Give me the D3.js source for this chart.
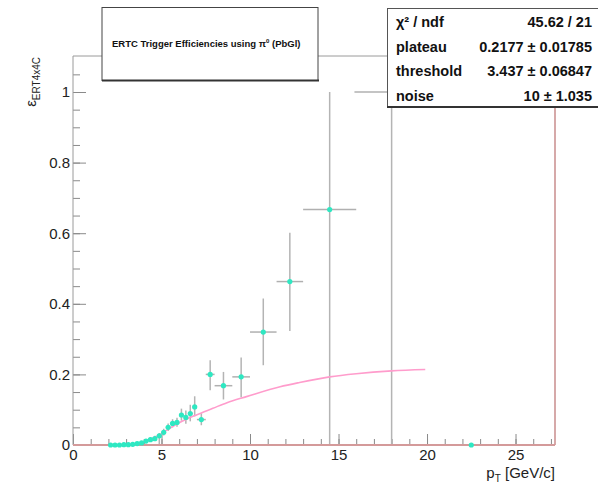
<!DOCTYPE html>
<html>
<head>
<meta charset="utf-8">
<script src="https://cdn.jsdelivr.net/npm/d3@7"></script>
<style>
  body { margin: 0; background: #fff; }
  svg { display: block; font-family: "Liberation Sans", Arial, sans-serif; }
</style>
</head>
<body>
<div id="chart"></div>
<script>
// measured points (pT bin centre, half width, efficiency, errors)
const ptVals = [2.125, 2.375, 2.625, 2.875, 3.125, 3.375, 3.625, 3.875, 4.125, 4.375,
  4.625, 4.875, 5.125, 5.375, 5.625, 5.875, 6.125, 6.375, 6.625, 6.875,
  7.25, 7.75, 8.5, 9.5, 10.75, 12.25, 14.5, 18, 22.5]
const ptErr = [0.125, 0.125, 0.125, 0.125, 0.125, 0.125, 0.125, 0.125, 0.125, 0.125,
  0.125, 0.125, 0.125, 0.125, 0.125, 0.125, 0.125, 0.125, 0.125, 0.125,
  0.25, 0.25, 0.5, 0.5, 0.75, 0.75, 1.5, 2.1, 2.5]
const effVals = [0, 0, 0, 0.001, 0.001, 0.002, 0.004, 0.006, 0.011, 0.015,
  0.018, 0.026, 0.036, 0.05, 0.061, 0.064, 0.085, 0.078, 0.089, 0.108,
  0.072, 0.2, 0.168, 0.193, 0.32, 0.463, 0.667, 1.0, 0]
const errUp = [0, 0, 0, 0.002, 0.002, 0.003, 0.004, 0.005, 0.006, 0.007,
  0.008, 0.008, 0.01, 0.011, 0.012, 0.013, 0.018, 0.02, 0.025, 0.03,
  0.018, 0.04, 0.039, 0.055, 0.095, 0.138, 0.333, 0, 0]
const errLo = [0, 0, 0, 0.001, 0.001, 0.002, 0.003, 0.004, 0.005, 0.006,
  0.007, 0.026, 0.009, 0.01, 0.011, 0.012, 0.016, 0.018, 0.022, 0.027,
  0.016, 0.045, 0.039, 0.058, 0.094, 0.14, 0.667, 1.0, 0]

// fit curve
const fitPt = [3.44, 3.8, 4.3, 5.0, 5.3, 6.0, 7.0, 7.9, 8.7, 9.8, 11.7, 12.8, 14.5, 16, 18, 19.9]
const fitEff = [0, 0.005, 0.015, 0.032, 0.042, 0.063, 0.086, 0.104, 0.12, 0.137, 0.165, 0.177, 0.193, 0.202, 0.21, 0.214]

const xMajor = [0, 5, 10, 15, 20, 25]
const yMajor = [0, 0.2, 0.4, 0.6, 0.8, 1.0]

const statNames = ["χ² / ndf", "plateau", "threshold", "noise"]
const statValues = ["45.62 / 21", "0.2177 ± 0.01785", "3.437 ± 0.06847", "10 ± 1.035"]

const width = 598
const height = 485
const frame = { left: 73, right: 555, top: 56, bottom: 445 }

const svg = d3
  .select("#chart")
  .append("svg")
  .attr("width", width)
  .attr("height", height)

const x = d3.scaleLinear().domain([0, 27.23]).range([frame.left, frame.right])
const y = d3.scaleLinear().domain([0, 1.102]).range([frame.bottom, frame.top])

// minor ticks
svg
  .append("g")
  .attr("transform", `translate(0,${frame.bottom})`)
  .call(d3.axisBottom(x).tickValues(d3.range(0, 28, 1)).tickSizeInner(-6).tickSizeOuter(0).tickFormat(""))
  .call((g) => g.select(".domain").remove())
  .call((g) => g.selectAll("line").attr("stroke", "#8a8a8a"))

svg
  .append("g")
  .attr("transform", `translate(${frame.left},0)`)
  .call(d3.axisLeft(y).tickValues(d3.range(0, 1.1, 0.05)).tickSizeInner(-7).tickSizeOuter(0).tickFormat(""))
  .call((g) => g.select(".domain").remove())
  .call((g) => g.selectAll("line").attr("stroke", "#8a8a8a"))

// major ticks + labels
svg
  .append("g")
  .attr("transform", `translate(0,${frame.bottom})`)
  .call(d3.axisBottom(x).tickValues(xMajor).tickSizeInner(-11).tickSizeOuter(0).tickPadding(4).tickFormat(d3.format("d")))
  .call((g) => g.select(".domain").remove())
  .call((g) => g.selectAll("line").attr("stroke", "#8a8a8a"))
  .call((g) => g.selectAll("text").attr("fill", "#222").style("font-size", "15px").attr("font-family", null))

svg
  .append("g")
  .attr("transform", `translate(${frame.left},0)`)
  .call(d3.axisLeft(y).tickValues(yMajor).tickSizeInner(-13).tickSizeOuter(0).tickPadding(3).tickFormat((d) => String(+d.toFixed(1))))
  .call((g) => g.select(".domain").remove())
  .call((g) => g.selectAll("line").attr("stroke", "#8a8a8a"))
  .call((g) => g.selectAll("text").attr("fill", "#222").style("font-size", "15px").attr("font-family", null))

// frame
svg.append("line")
  .attr("x1", frame.left).attr("x2", frame.right)
  .attr("y1", frame.top).attr("y2", frame.top)
  .attr("stroke", "#9a9a9a").attr("stroke-width", 1)
svg.append("line")
  .attr("x1", frame.left).attr("x2", frame.left)
  .attr("y1", frame.top).attr("y2", frame.bottom)
  .attr("stroke", "#9a9a9a").attr("stroke-width", 1)
svg.append("line")
  .attr("x1", frame.right).attr("x2", frame.right)
  .attr("y1", frame.top).attr("y2", frame.bottom)
  .attr("stroke", "#c98c8c").attr("stroke-width", 1.5)

// error bars
const points = ptVals.map((d, i) => ({
  pt: d, ex: ptErr[i], eff: effVals[i], up: errUp[i], lo: errLo[i],
}))

const bars = svg.append("g").attr("class", "errors")
bars
  .selectAll(".ey")
  .data(points.filter((d) => d.up + d.lo > 0))
  .join("line")
  .attr("class", "ey")
  .attr("x1", (d) => x(d.pt))
  .attr("x2", (d) => x(d.pt))
  .attr("y1", (d) => y(d.eff + d.up))
  .attr("y2", (d) => y(d.eff - d.lo))
  .attr("stroke", "#b4b4b4")
  .attr("stroke-width", 1.5)

bars
  .selectAll(".ex")
  .data(points)
  .join("line")
  .attr("class", "ex")
  .attr("x1", (d) => x(d.pt - d.ex))
  .attr("x2", (d) => x(d.pt + d.ex))
  .attr("y1", (d) => y(d.eff))
  .attr("y2", (d) => y(d.eff))
  .attr("stroke", "#b0b0b0")
  .attr("stroke-width", 1.5)

// bottom axis line (reddish, drawn over)
svg.append("line")
  .attr("x1", frame.left).attr("x2", frame.right)
  .attr("y1", frame.bottom).attr("y2", frame.bottom)
  .attr("stroke", "#d49a9a").attr("stroke-width", 2)

// fit
const fitLine = d3
  .line()
  .x((d, i) => x(fitPt[i]))
  .y((d) => y(d))
  .curve(d3.curveMonotoneX)

svg
  .append("path")
  .attr("d", fitLine(fitEff))
  .attr("fill", "none")
  .attr("stroke", "#ff9ccc")
  .attr("stroke-width", 1.6)

// markers
svg
  .append("g")
  .selectAll("circle")
  .data(points)
  .join("circle")
  .attr("cx", (d) => x(d.pt))
  .attr("cy", (d) => y(d.eff))
  .attr("r", 2.6)
  .attr("fill", "#2ee8c2")

// axis titles
const yTitle = svg
  .append("text")
  .attr("transform", `translate(36,57) rotate(-90)`)
  .attr("text-anchor", "end")
  .attr("fill", "#222")
yTitle.append("tspan").style("font-size", "15px").text("ε")
yTitle.append("tspan").style("font-size", "10px").attr("dy", 4).text("ERT4x4C")

const xTitle = svg
  .append("text")
  .attr("x", 555)
  .attr("y", 478)
  .attr("text-anchor", "end")
  .attr("fill", "#222")
  .style("font-size", "15px")
xTitle.append("tspan").text("p")
xTitle.append("tspan").style("font-size", "10px").attr("dy", 4).text("T")
xTitle.append("tspan").attr("dy", -4).text(" [GeV/c]")

// title box
svg.append("rect")
  .attr("x", 102).attr("y", 7.5)
  .attr("width", 216).attr("height", 73)
  .attr("fill", "#fff").attr("stroke", "#444").attr("stroke-width", 1)
svg.append("line")
  .attr("x1", 102).attr("x2", 319).attr("y1", 80.5).attr("y2", 80.5)
  .attr("stroke", "#333").attr("stroke-width", 2)
const title = svg
  .append("text")
  .attr("x", 112)
  .attr("y", 47)
  .attr("fill", "#111")
  .style("font-size", "9.5px")
  .style("font-weight", "bold")
title.append("tspan").text("ERTC Trigger Efficiencies using π")
title.append("tspan").attr("dy", -4).style("font-size", "6px").text("0")
title.append("tspan").attr("dy", 4).text(" (PbGl)")

// stats box
svg.append("rect")
  .attr("x", 387.5).attr("y", 8.5)
  .attr("width", 230).attr("height", 98)
  .attr("fill", "#fff").attr("stroke", "#555").attr("stroke-width", 1)
svg.append("line")
  .attr("x1", 387).attr("x2", 598).attr("y1", 107).attr("y2", 107)
  .attr("stroke", "#333").attr("stroke-width", 2)

const statRows = svg
  .append("g")
  .selectAll("g")
  .data(statNames)
  .join("g")
  .attr("transform", (d, i) => `translate(0,${27 + i * 24.5})`)
  .style("font-size", "14.5px")
  .style("font-weight", "bold")
  .attr("fill", "#111")

statRows.append("text").attr("x", 396).text((d) => d)
statRows
  .append("text")
  .attr("x", 592)
  .attr("text-anchor", "end")
  .text((d, i) => statValues[i])
</script>
</body>
</html>
